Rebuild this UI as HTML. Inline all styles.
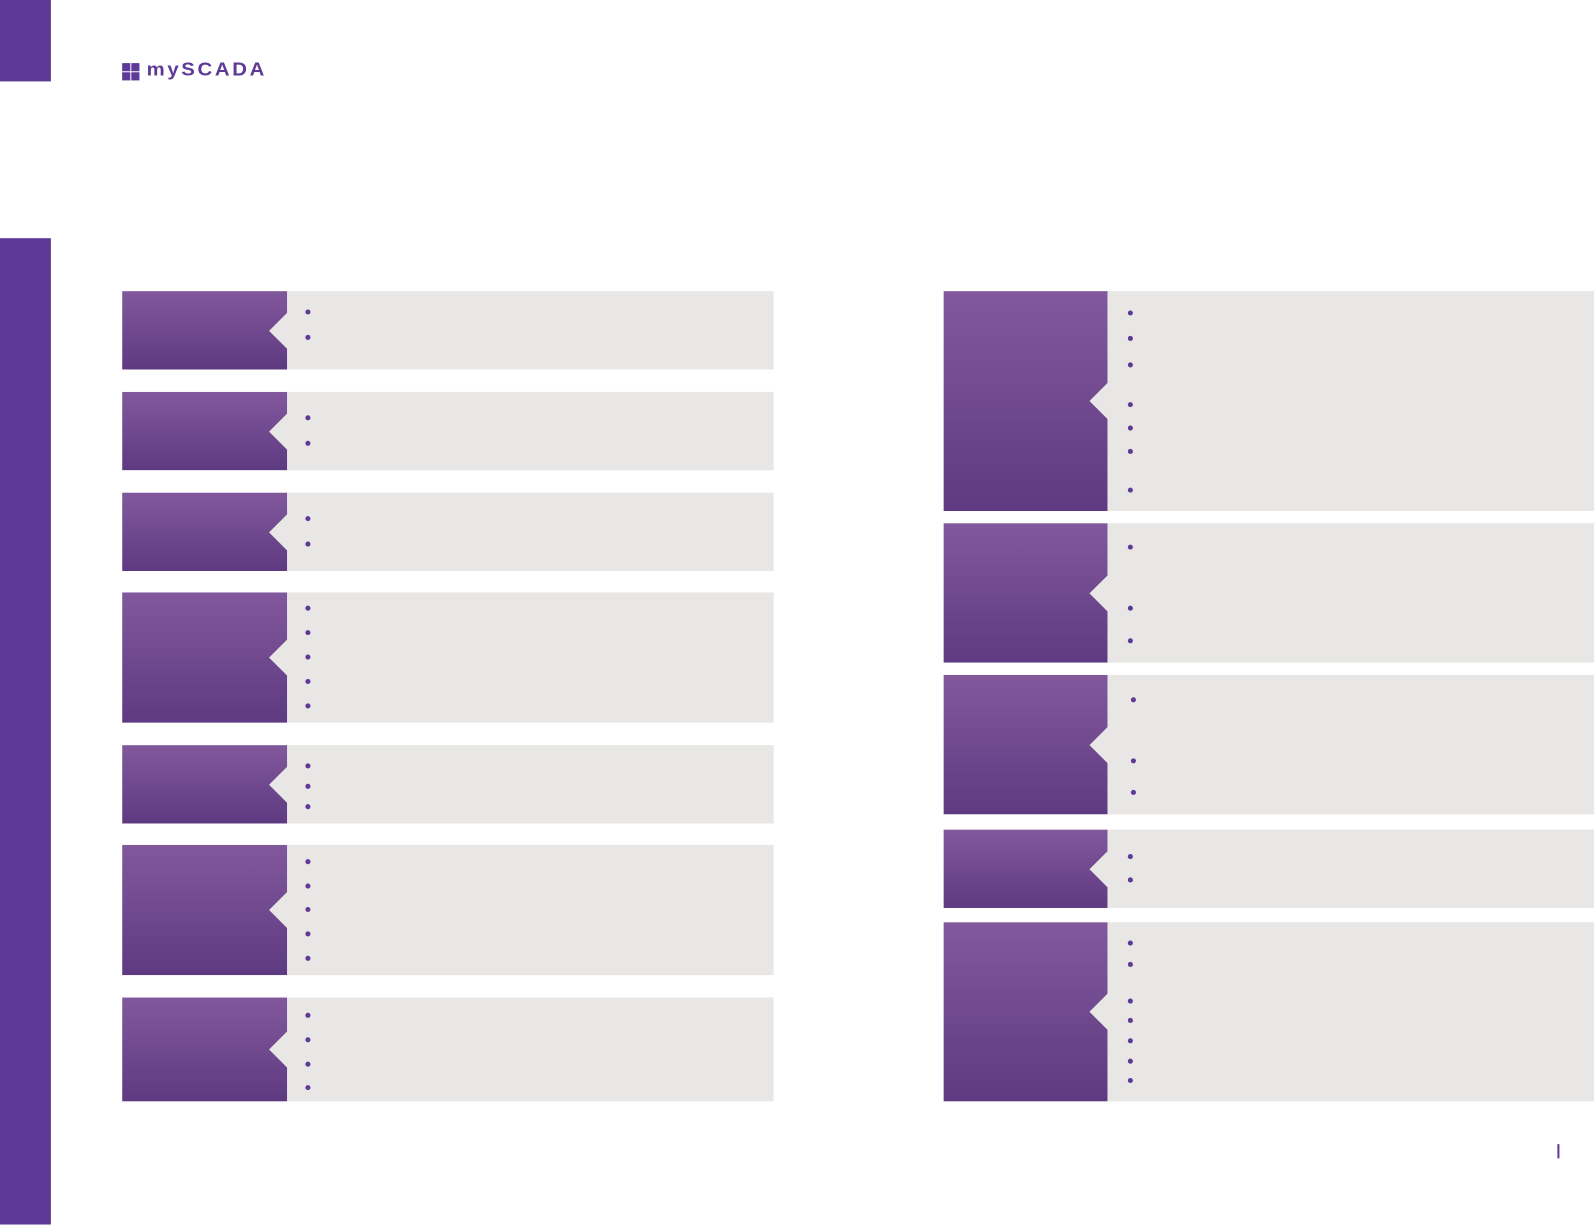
<!DOCTYPE html>
<html><head><meta charset="utf-8"><style>
html,body{margin:0;padding:0;background:#fff;width:1596px;height:1225px;overflow:hidden}
#w{position:absolute;left:0;top:0;width:1568px;height:1203px;transform:scale(1.0179);transform-origin:0 0;font-family:"Liberation Sans",sans-serif}
.sb{position:absolute;left:0;width:50px;background:#5e3a96}
.card{position:absolute;background:#e8e7e5;overflow:hidden}
.p{position:absolute;left:0;top:0;bottom:0;background:linear-gradient(#82589c,#5e3a82)}
.n{position:absolute;width:25px;height:25px;background:#e8e7e5;transform:translate(-50%,-50%) rotate(45deg)}
.d{position:absolute;width:5px;height:5px;border-radius:50%;background:#5e3a96}
</style></head><body><div id="w">
<div class="sb" style="top:0;height:80px"></div>
<div class="sb" style="top:234px;height:969px"></div>
<div style="position:absolute;left:120px;top:62px;width:8px;height:8px;background:#5e3a96"></div>
<div style="position:absolute;left:129px;top:62px;width:8px;height:8px;background:#5e3a96"></div>
<div style="position:absolute;left:120px;top:71px;width:8px;height:8px;background:#5e3a96"></div>
<div style="position:absolute;left:129px;top:71px;width:8px;height:8px;background:#5e3a96"></div>
<div style="position:absolute;left:144px;top:58px;font-size:20px;line-height:22px;font-weight:bold;color:#5e3a96;letter-spacing:2.6px;transform:scaleY(0.9)">mySCADA</div>
<div style="position:absolute;left:1530px;top:1124px;width:2px;height:14px;background:#5e3a96"></div>
<div id="c"></div>
</div>
<script>
var cards=[
[120,286,282,760,363,[306,331],302],
[120,385,282,760,462,[410,435],302],
[120,484,282,760,561,[509,534],302],
[120,582,282,760,710,[597,621,645,669,693],302],
[120,732,282,760,809,[752,772,792],302],
[120,830,282,760,958,[846,870,893,917,941],302],
[120,980,282,760,1082,[997,1021,1045,1068],302],
[927,286,1088,1566,502,[307,332,358,397,420,443,481],1110],
[927,514,1088,1566,651,[537,597,629],1110],
[927,663,1088,1566,800,[687,747,778],1113],
[927,815,1088,1566,892,[841,864],1110],
[927,906,1088,1566,1082,[926,947,983,1002,1022,1042,1061],1110]];
var h='';
cards.forEach(function(c){
var x=c[0],y=c[1],pe=c[2],r=c[3],b=c[4],w=r-x,hh=b-y,pw=pe-x;
h+='<div class="card" style="left:'+x+'px;top:'+y+'px;width:'+w+'px;height:'+hh+'px"><div class="p" style="width:'+pw+'px"></div><div class="n" style="left:'+pw+'px;top:'+(hh/2)+'px"></div>';
c[5].forEach(function(by){h+='<div class="d" style="left:'+(c[6]-x-2.5)+'px;top:'+(by-y-2.5)+'px"></div>';});
h+='</div>';});
document.getElementById('c').innerHTML=h;
</script>
</body></html>
